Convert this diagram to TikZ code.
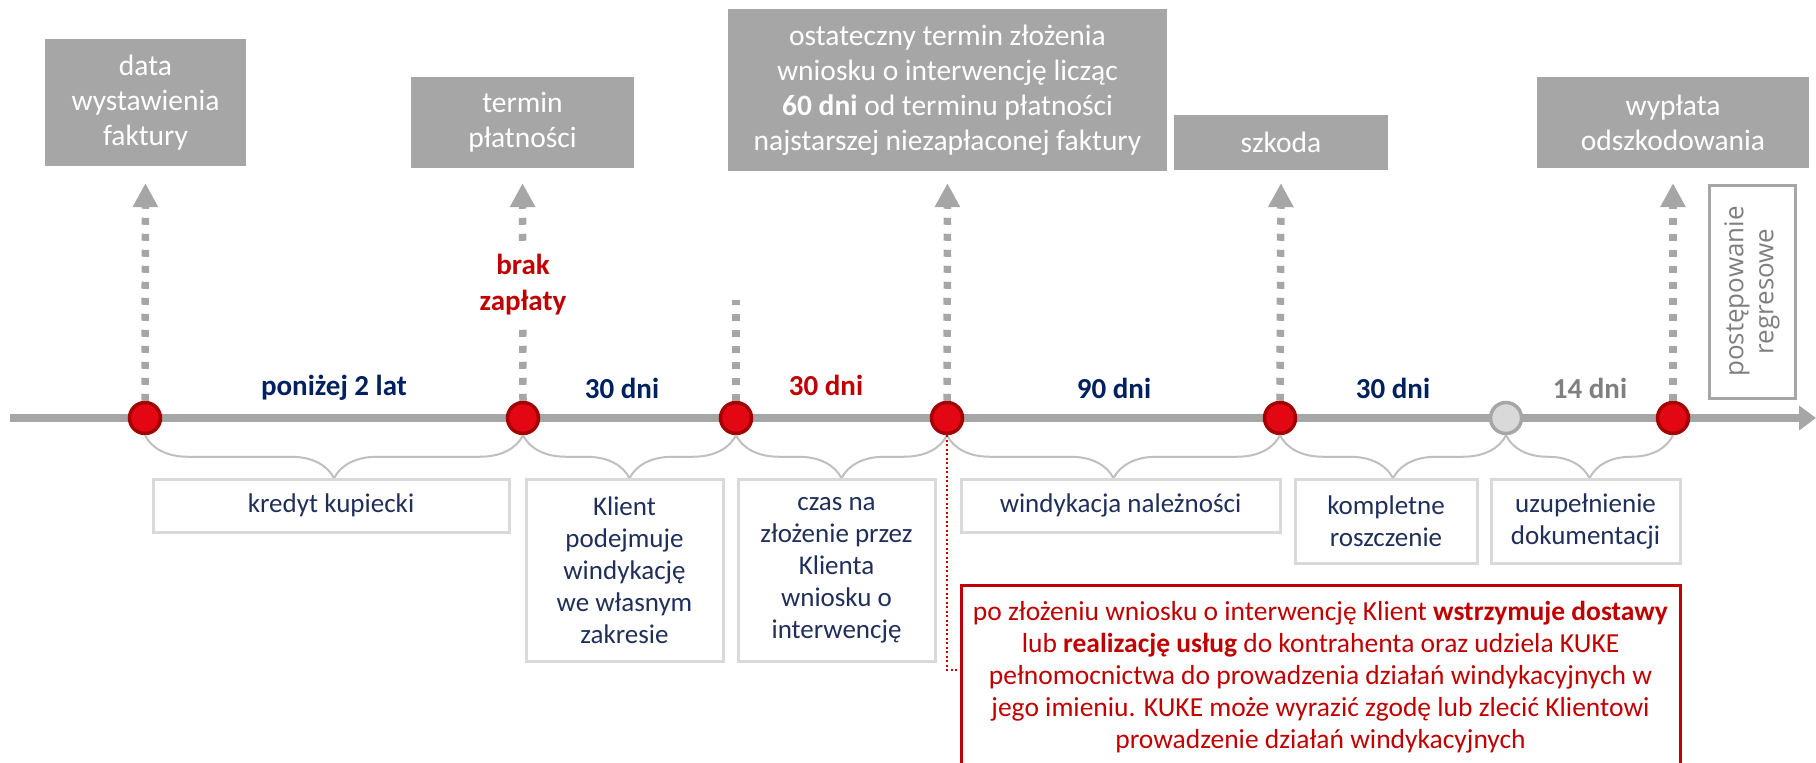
\documentclass[tikz,border=0pt]{standalone}
\usepackage{fontspec}
\setmainfont{Carlito}
\newfontfamily\regfont{Open Sans}
\usetikzlibrary{arrows.meta,decorations.pathreplacing,calc}
\definecolor{boxgray}{HTML}{A6A6A6}
\definecolor{navytxt}{HTML}{002060}
\definecolor{boxtxt}{HTML}{1F2F5A}
\definecolor{kred}{HTML}{C00000}
\definecolor{dotred}{HTML}{E30613}
\definecolor{ringred}{HTML}{A50000}
\definecolor{lightframe}{HTML}{D9D9D9}
\definecolor{txtgray}{HTML}{7F7F7F}
\definecolor{bracegray}{HTML}{BFBFBF}
\definecolor{greydot}{HTML}{D9D9D9}
\begin{document}
\begin{tikzpicture}[x=1pt,y=-1pt,
  topbox/.style={fill=boxgray, text=white, align=center, inner sep=0pt,
    font=\fontsize{29.5}{35}\selectfont},
  lowbox/.style={draw=lightframe, line width=3pt, text=boxtxt, align=center, inner sep=0pt,
    font=\fontsize{27}{32}\selectfont},
  evt/.style={circle, fill=dotred, draw=ringred, line width=3.5pt, minimum size=31pt, inner sep=0pt},
  evtgray/.style={circle, fill=greydot, draw=boxgray, line width=3.5pt, minimum size=31pt, inner sep=0pt},
  dotline/.style={draw=boxgray, line width=7.5pt, dash pattern=on 7pt off 9pt},
  dotarrow/.style={dotline, -{Triangle[length=24pt,width=24pt]}},
  span/.style={font=\bfseries\fontsize{29}{35}\selectfont, inner sep=0pt},
  bracelink/.style={draw=bracegray, line width=2pt, decorate,
    decoration={brace, mirror, amplitude=43pt}},
]
\path[use as bounding box] (0,0) rectangle (1816,763);
\clip (0,0) rectangle (1816,763);

% top boxes
\node[topbox, minimum width=201pt, minimum height=127pt] (b1) at (145.5,102.5) {data\\wystawienia\\faktury};
\node[topbox, minimum width=223pt, minimum height=91pt] (b2) at (522.5,122.5) {termin\\płatności};
\node[topbox, minimum width=439pt, minimum height=162pt] (b3) at (947.5,90) {ostateczny termin złożenia\\wniosku o interwencję licząc\\\textbf{60 dni} od terminu płatności\\najstarszej niezapłaconej faktury};
\node[topbox, minimum width=214pt, minimum height=55pt] (b4) at (1281,142.5) {szkoda};
\node[topbox, minimum width=272pt, minimum height=91pt] (b5) at (1673,122.5) {wypłata\\odszkodowania};

% timeline
\coordinate (tl0) at (10,418);
\coordinate (tl1) at (1816,418);
\draw[line width=8pt, boxgray, -{Triangle[length=17pt,width=24pt]}] (tl0) -- (tl1);

% events
\node[evt] (n1) at (145,418) {};
\node[evt] (n2) at (523,418) {};
\node[evt] (n3) at (736,418) {};
\node[evt] (n4) at (947,418) {};
\node[evt] (n5) at (1280,418) {};
\node[evtgray] (n6) at (1506,418) {};
\node[evt] (n7) at (1673,418) {};

% dotted connectors
\draw[dotarrow, shorten >=17pt] (n1.north) -- (b1.south);
\draw[dotarrow, shorten >=15pt] (n2.north) -- (b2.south);
\coordinate (n3top) at (736,300);
\draw[dotline] (n3.north) -- (n3top);
\draw[dotarrow, shorten >=12pt] (n4.north) -- (b3.south);
\draw[dotarrow, shorten >=13pt] (n5.north) -- (b4.south);
\draw[dotarrow, shorten >=15pt] (n7.north) -- (b5.south);

\node[span, text=kred, fill=white, align=center, inner xsep=4pt, inner ysep=10pt,
  font=\bfseries\fontsize{29}{36}\selectfont] (brak) at (523,285) {brak\\zapłaty};

% span labels
\node[span, text=navytxt] (s1) at (334,388) {poniżej 2 lat};
\node[span, text=navytxt] (s2) at (622,388) {30 dni};
\node[span, text=kred] (s3) at (826,385) {30 dni};
\node[span, text=navytxt] (s4) at (1114,388) {90 dni};
\node[span, text=navytxt] (s5) at (1393,388) {30 dni};
\node[span, text=txtgray] (s6) at (1590,388) {14 dni};

% regres box
\node[draw=boxgray, line width=3pt, rotate=90, minimum width=213pt, minimum height=86pt,
  inner sep=0pt, align=center, text=txtgray, font=\regfont\fontsize{26}{30}\selectfont]
  (reg) at (1752,291.5) {postępowanie\\regresowe};

% braces
\draw[bracelink] (n1.south) -- (n2.south);
\draw[bracelink] (n2.south) -- (n3.south);
\draw[bracelink] (n3.south) -- (n4.south);
\draw[bracelink] (n4.south) -- (n5.south);
\draw[bracelink] (n5.south) -- (n6.south);
\draw[bracelink] (n6.south) -- (n7.south);

% lower boxes
\node[lowbox, minimum width=356pt, minimum height=53pt] (l1) at (331,505.5) {kredyt kupiecki};
\node[lowbox, minimum width=197pt, minimum height=182pt] (l2) at (624.5,570) {Klient\\podejmuje\\windykację\\we własnym\\zakresie};
\node[lowbox, minimum width=197pt, minimum height=182pt] (l3) at (836.5,570) {czas na\\złożenie przez\\Klienta\\wniosku o\\interwencję};
\node[lowbox, minimum width=319pt, minimum height=53pt] (l4) at (1120.5,505.5) {windykacja należności};
\node[lowbox, minimum width=182pt, minimum height=84pt] (l5) at (1386,521) {kompletne\\roszczenie};
\node[lowbox, minimum width=189pt, minimum height=84pt] (l6) at (1585.5,521) {uzupełnienie\\dokumentacji};

% red note
\node[draw=kred, line width=3pt, minimum width=719pt, minimum height=185pt, inner sep=0pt,
  text=kred, align=center, font=\fontsize{27.5}{32}\selectfont] (note) at (1320.5,677.5)
  {po złożeniu wniosku o interwencję Klient \textbf{wstrzymuje dostawy}\\
   lub \textbf{realizację usług} do kontrahenta oraz udziela KUKE\\
   pełnomocnictwa do prowadzenia działań windykacyjnych w\\
   jego imieniu. KUKE może wyrazić zgodę lub zlecić Klientowi\\
   prowadzenie działań windykacyjnych};
\coordinate (notein) at (961,670);
\draw[kred, line width=2pt, dash pattern=on 2pt off 2.5pt] (n4.south) |- (notein);
\end{tikzpicture}
\end{document}
